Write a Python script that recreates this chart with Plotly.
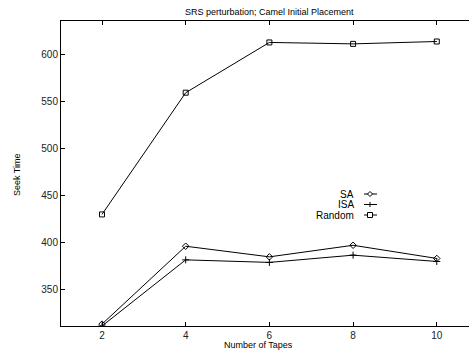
import plotly.graph_objects as go

tapes = [2, 4, 6, 8, 10]
sa = [313, 395.8, 384.5, 396.8, 382.8]
isa = [311, 381.3, 378.6, 386.3, 379.6]
rnd = [429.6, 559, 612.4, 610.9, 613.4]
names = ["SA", "ISA", "Random"]
symbols = ["diamond-open", "cross-thin-open", "square-open"]

FONT = "Liberation Sans, Arial, Helvetica, sans-serif"
W, H = 469, 352
L, R, T, B = 61, 0, 21, 26

fig = go.Figure()
for ys, nm, sym in zip([sa, isa, rnd], names, symbols):
    fig.add_trace(go.Scatter(
        x=tapes, y=ys, mode="lines+markers", name=nm, showlegend=False,
        line=dict(color="black", width=1),
        marker=dict(symbol=sym, size=5, color="black",
                    line=dict(color="black", width=1)),
    ))

def px_x(p):
    return (p - L) / (W - L - R)

def px_y(p):
    return 1 - (p - T) / (H - T - B)

rows = [194, 204.5, 215]
annotations = []
shapes = []
kx0, kx1, kc = 364, 377, 370
for nm, yy, sym in zip(names, rows, symbols):
    annotations.append(dict(
        x=px_x(356), y=px_y(yy), xref="paper", yref="paper",
        text=nm, showarrow=False, xanchor="right", yanchor="middle",
        font=dict(family=FONT, size=10, color="black")))
    shapes.append(dict(type="line", xref="paper", yref="paper",
                       x0=px_x(kx0), x1=px_x(kx1), y0=px_y(yy), y1=px_y(yy),
                       line=dict(color="black", width=1)))
    s = 2.5
    if sym.startswith("diamond"):
        path = (f"M{px_x(kc-s)},{px_y(yy)} L{px_x(kc)},{px_y(yy-s)} "
                f"L{px_x(kc+s)},{px_y(yy)} L{px_x(kc)},{px_y(yy+s)} Z")
        shapes.append(dict(type="path", xref="paper", yref="paper", path=path,
                           line=dict(color="black", width=1), fillcolor="white"))
    elif sym.startswith("cross"):
        shapes.append(dict(type="line", xref="paper", yref="paper",
                           x0=px_x(kc), x1=px_x(kc), y0=px_y(yy - s), y1=px_y(yy + s),
                           line=dict(color="black", width=1)))
    else:
        shapes.append(dict(type="rect", xref="paper", yref="paper",
                           x0=px_x(kc - s), x1=px_x(kc + s),
                           y0=px_y(yy - s), y1=px_y(yy + s),
                           line=dict(color="black", width=1), fillcolor="white"))

annotations.append(dict(
    x=px_x(17), y=px_y(175), xref="paper", yref="paper",
    text="Seek Time", showarrow=False, textangle=-90,
    xanchor="center", yanchor="middle",
    font=dict(family=FONT, size=9, color="black")))
annotations.append(dict(
    x=px_x(258), y=px_y(345), xref="paper", yref="paper",
    text="Number of Tapes", showarrow=False,
    xanchor="center", yanchor="middle",
    font=dict(family=FONT, size=9, color="black")))
annotations.append(dict(
    x=px_x(269), y=px_y(12), xref="paper", yref="paper",
    text="SRS perturbation; Camel Initial Placement", showarrow=False,
    xanchor="center", yanchor="middle",
    font=dict(family=FONT, size=9, color="black")))

fig.update_layout(
    width=W, height=H,
    margin=dict(l=L, r=R, t=T, b=B),
    paper_bgcolor="white", plot_bgcolor="white",
    font=dict(family=FONT, size=10, color="#222"),
    showlegend=False,
    annotations=annotations,
    shapes=shapes,
    xaxis=dict(range=[1.02, 10.77], tickvals=tapes, ticks="inside",
               ticklen=4, tickcolor="black", showgrid=False, zeroline=False,
               showline=True, linecolor="black", linewidth=1, mirror="ticks",
               tickfont=dict(family=FONT, size=10, color="#222")),
    yaxis=dict(range=[311, 635.2], tickvals=[350, 400, 450, 500, 550, 600],
               ticks="inside", ticklen=4, tickcolor="black", showgrid=False,
               zeroline=False, showline=True, linecolor="black", linewidth=1,
               mirror=False,
               tickfont=dict(family=FONT, size=10, color="#222")),
)

fig.write_html("out.html", config={"displayModeBar": False},
               post_script="document.body.style.margin='0';document.body.style.padding='0';")
